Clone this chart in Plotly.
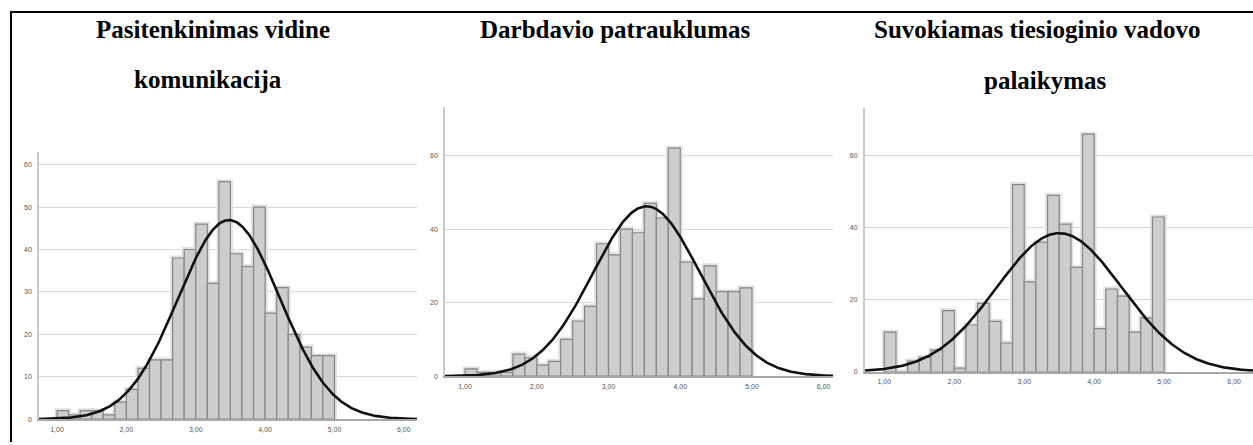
import numpy as np
import plotly.graph_objects as go

W, H = 1253, 445

# ---------------- data ----------------
title_lines_1 = ["Pasitenkinimas vidine", "komunikacija"]
title_lines_2 = ["Darbdavio patrauklumas"]
title_lines_3 = ["Suvokiamas tiesioginio vadovo", "palaikymas"]

bin_start = 1.0
bin_width = 1 / 6

counts_1 = [2, 1, 2, 2, 1, 4, 7, 12, 14, 14, 38, 40, 46, 32, 56, 39, 36, 50, 25, 31, 20, 17, 15, 15]
counts_2 = [2, 1, 1, 1, 6, 5, 3, 4, 10, 15, 19, 36, 33, 40, 39, 47, 43, 62, 31, 21, 30, 23, 23, 24]
counts_3 = [11, 0, 3, 4, 6, 17, 1, 13, 19, 14, 8, 52, 25, 36, 49, 41, 29, 66, 12, 23, 21, 11, 15, 43]

# fitted normal curve parameters
mean_1, sd_1 = 3.48, 0.735
mean_2, sd_2 = 3.53, 0.747
mean_3, sd_3 = 3.50, 0.896

x_tick_vals = [1, 2, 3, 4, 5, 6]
x_tick_labels = ["1,00", "2,00", "3,00", "4,00", "5,00", "6,00"]
y_ticks_1 = [0, 10, 20, 30, 40, 50, 60]
y_ticks_2 = [0, 20, 40, 60]
y_ticks_3 = [0, 20, 40, 60]

# ---------------- layout geometry (pixels) ----------------
panels = [
    dict(counts=counts_1, mean=mean_1, sd=sd_1, yt=y_ticks_1, title=title_lines_1,
         tcx=[213, 207.5], tcy=[30, 80],
         x0=39, x1=417, ybot=422, ytop=153, xr=[0.74, 6.19], yr=[0, 63]),
    dict(counts=counts_2, mean=mean_2, sd=sd_2, yt=y_ticks_2, title=title_lines_2,
         tcx=[614.5], tcy=[30],
         x0=445, x1=833, ybot=378.7, ytop=107.7, xr=[0.72, 6.13], yr=[0, 73.2]),
    dict(counts=counts_3, mean=mean_3, sd=sd_3, yt=y_ticks_3, title=title_lines_3,
         tcx=[1036.5, 1045], tcy=[30, 81],
         x0=864.7, x1=1253, ybot=374.3, ytop=108.3, xr=[0.72, 6.27], yr=[0, 73.4]),
]

fig = go.Figure()
layout = dict(
    width=W, height=H, margin=dict(l=0, r=0, t=0, b=0),
    paper_bgcolor="white", plot_bgcolor="white",
    showlegend=False, barmode="overlay",
    annotations=[], shapes=[],
)

tick_font = dict(family="Liberation Sans, Arial", size=7, color="#555555")

for i, p in enumerate(panels):
    k = "" if i == 0 else str(i + 1)
    xa, ya = "x" + k, "y" + k
    counts = p["counts"]
    n = len(counts)
    centers = [bin_start + (j + 0.5) * bin_width for j in range(n)]
    total = sum(counts)

    # halo (light outline around the silhouette)
    fig.add_trace(go.Bar(x=centers, y=counts, width=bin_width, xaxis=xa, yaxis=ya,
                         marker=dict(color="#e2e2e2", line=dict(color="#e2e2e2", width=5)),
                         hoverinfo="skip"))
    # actual bars
    fig.add_trace(go.Bar(x=centers, y=counts, width=bin_width, xaxis=xa, yaxis=ya,
                         marker=dict(color="#cdcdcd", line=dict(color="#868686", width=1.2))))
    # normal curve
    xs = np.linspace(p["xr"][0], p["xr"][1], 400)
    ys = total * bin_width / (p["sd"] * np.sqrt(2 * np.pi)) * np.exp(-0.5 * ((xs - p["mean"]) / p["sd"]) ** 2)
    fig.add_trace(go.Scatter(x=xs, y=ys, mode="lines", xaxis=xa, yaxis=ya,
                             line=dict(color="#111111", width=2.6), cliponaxis=False))

    layout["xaxis" + k] = dict(
        domain=[p["x0"] / W, p["x1"] / W], range=p["xr"], anchor=ya,
        tickvals=x_tick_vals, ticktext=x_tick_labels, tickfont=tick_font,
        showgrid=False, zeroline=False, showline=True, linecolor="#a8a8a8", linewidth=2,
        ticks="", ticklabelstandoff=2, fixedrange=True,
    )
    layout["yaxis" + k] = dict(
        domain=[1 - p["ybot"] / H, 1 - p["ytop"] / H], range=p["yr"], anchor=xa,
        tickvals=p["yt"], tickfont=tick_font,
        showgrid=True, gridcolor="#d8d8d8", gridwidth=1, zeroline=False,
        showline=True, linecolor="#c8c8c8", linewidth=1.5,
        ticks="", ticklabelstandoff=4, fixedrange=True,
    )
    for line, cx, cy in zip(p["title"], p["tcx"], p["tcy"]):
        layout["annotations"].append(dict(
            text="<b>" + line + "</b>", x=cx / W, y=1 - cy / H, xref="paper", yref="paper",
            xanchor="center", yanchor="middle", showarrow=False, borderpad=0,
            font=dict(family="Liberation Serif, Times New Roman", size=25, color="black"),
        ))

# table frame
layout["shapes"].append(dict(type="line", xref="paper", yref="paper",
                             x0=10 / W, x1=1, y0=1 - 12 / H, y1=1 - 12 / H,
                             line=dict(color="black", width=2)))
layout["shapes"].append(dict(type="line", xref="paper", yref="paper",
                             x0=11 / W, x1=11 / W, y0=1 - 12 / H, y1=0,
                             line=dict(color="black", width=2)))

fig.update_layout(**layout)
fig.write_html("out.html", config={"displayModeBar": False},
               post_script="document.body.style.margin='0';document.body.style.overflow='hidden';")
